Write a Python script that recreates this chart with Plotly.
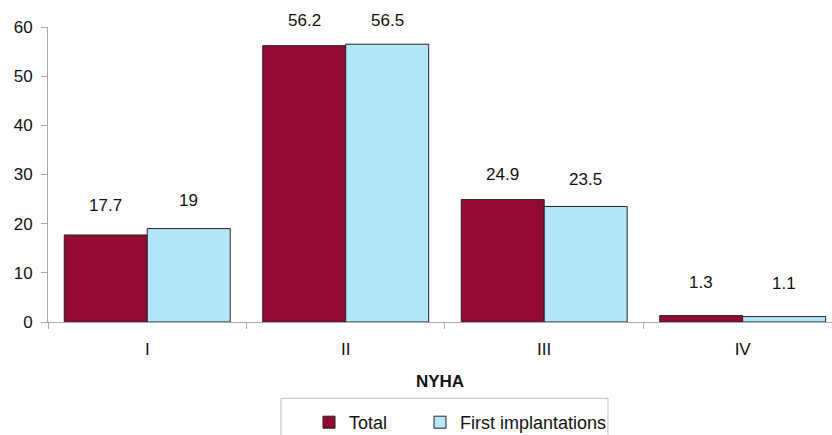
import plotly.graph_objects as go

categories = ["I", "II", "III", "IV"]
total = [17.7, 56.2, 24.9, 1.3]
first_impl = [19, 56.5, 23.5, 1.1]
series_names = ["Total", "First implantations"]
y_ticks = [0, 10, 20, 30, 40, 50, 60]

# label vertical offsets above bar tops (px)
total_shift = [29, 25, 25, 33]
first_shift = [28, 24, 27, 33]

FONT = "Liberation Sans, Arial, sans-serif"
C_TOTAL = "#930A33"
C_FIRST = "#B4E5FB"

W, H = 832, 435
TOP = 27
BOTTOM = 322.5

fig = go.Figure()
fig.add_trace(go.Bar(x=categories, y=total, name=series_names[0], legendwidth=66,
                     marker=dict(color=C_TOTAL, line=dict(color="#222222", width=1))))
fig.add_trace(go.Bar(x=categories, y=first_impl, name=series_names[1], legendwidth=170,
                     marker=dict(color=C_FIRST, line=dict(color="#222222", width=1))))

bar_half_px = 41.5
for vals, shifts, sign in [(total, total_shift, -1), (first_impl, first_shift, 1)]:
    for c, v, s in zip(categories, vals, shifts):
        fig.add_annotation(x=c, y=v, text=f"{v:g}", showarrow=False,
                           xshift=sign * bar_half_px, yshift=s,
                           font=dict(size=17, color="#111111", family=FONT))

# legend frame
PH = BOTTOM - TOP
fig.add_shape(type="rect", xref="paper", yref="paper",
              x0=(281 - 48) / 784, x1=(608 - 48) / 784,
              y0=-(445 - BOTTOM) / PH, y1=-(399 - BOTTOM) / PH,
              line=dict(color="#BBBBBB", width=1), fillcolor="rgba(0,0,0,0)")

fig.update_layout(
    width=W, height=H,
    margin=dict(l=48, r=0, t=TOP, b=H - BOTTOM, autoexpand=False),
    paper_bgcolor="white", plot_bgcolor="white",
    barmode="group", bargap=0.164, bargroupgap=0,
    font=dict(family=FONT, size=17, color="#111111"),
    showlegend=True,
    legend=dict(orientation="h", xref="container", yref="container",
                x=309 / W, y=1 - 404 / H,
                xanchor="left", yanchor="top", bgcolor="rgba(0,0,0,0)",
                font=dict(size=18, family=FONT, color="#111111")),
    xaxis=dict(type="category", range=[-0.5, 3.45], showline=True, automargin=False,
               linecolor="#AAAAAA", linewidth=1, ticks="outside",
               tickson="boundaries", ticklen=6, tickcolor="#AAAAAA",
               showgrid=False, tickfont=dict(size=17), ticklabelstandoff=12,
               title=dict(text="<b>NYHA</b>", font=dict(size=17), standoff=16)),
    yaxis=dict(range=[0, 60], tickvals=y_ticks, showline=True, automargin=False,
               linecolor="#AAAAAA", linewidth=1, ticks="outside", ticklen=6,
               tickcolor="#AAAAAA", showgrid=False, zeroline=False,
               tickfont=dict(size=17), ticklabelstandoff=5),
)

fig.write_html("out.html", config={"displayModeBar": False},
               post_script="document.body.style.margin='0';")
